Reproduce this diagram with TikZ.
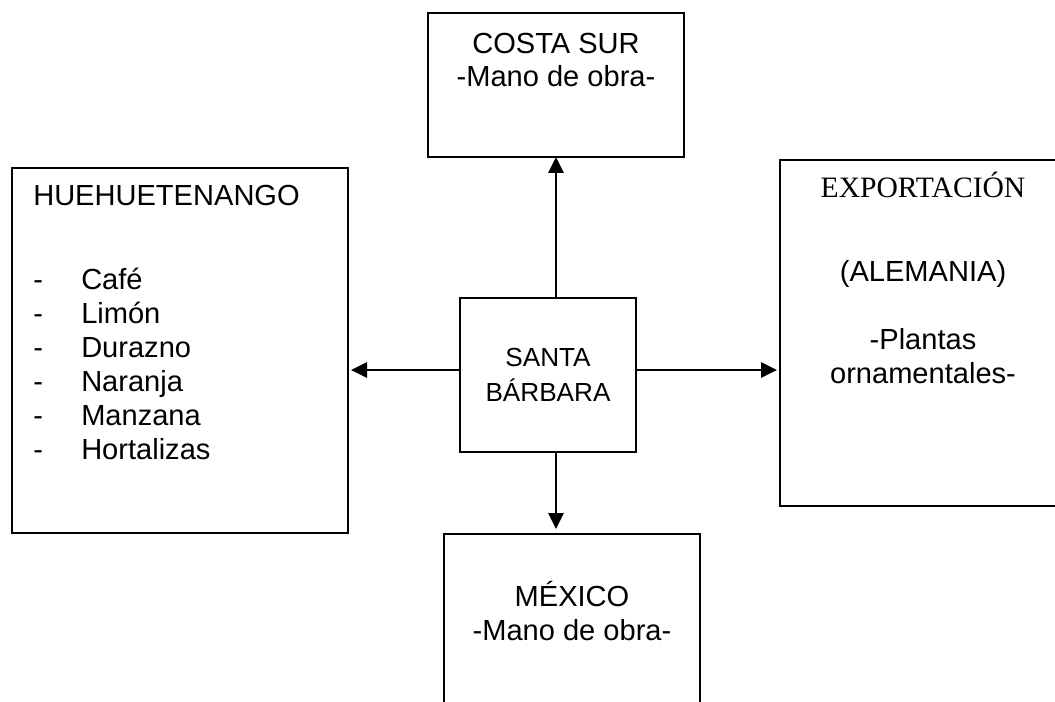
\documentclass[tikz,border=0pt]{standalone}
\usepackage{fontspec}
\setmainfont{Liberation Sans}
\newfontfamily\timesfont{Liberation Serif}
\usetikzlibrary{arrows.meta}
\newlength{\px}
\setlength{\px}{0.75pt}
\tikzset{
  box/.style={draw=black,line width=1.5pt,inner sep=0pt,outer sep=0pt,fill=white},
  big/.style={font=\fontsize{21.8pt}{25.4pt}\selectfont,inner sep=0pt,text=black},
  mid/.style={font=\fontsize{19.6pt}{25.8pt}\selectfont,inner sep=0pt,text=black},
  link/.style={line width=1.5pt,draw=black,-{Triangle[length=12pt,width=11.5pt]}},
}
\begin{document}
\begin{tikzpicture}[x=0.75pt,y=-0.75pt]
\clip (0,0) rectangle (1055,702);
\node[box,minimum width=336\px,minimum height=365\px] (hue) at (180,350.5) {};
\node[box,minimum width=176\px,minimum height=154\px] (santa) at (548,375) {};
\node[box,minimum width=256\px,minimum height=144\px] (costa) at (556,85) {};
\node[box,minimum width=340\px,minimum height=346\px] (exp) at (950,333) {};
\node[box,minimum width=256\px,minimum height=220\px] (mex) at (572,644) {};
\node[big,anchor=base west] (huet) at (33,206) {HUEHUETENANGO};
\node[big,anchor=north west,align=left] (huel) at (33,268) {\makebox[48\px][l]{-}Café\\\makebox[48\px][l]{-}Limón\\\makebox[48\px][l]{-}Durazno\\\makebox[48\px][l]{-}Naranja\\\makebox[48\px][l]{-}Manzana\\\makebox[48\px][l]{-}Hortalizas};
\node[mid,align=center] (santat) at (548,375) {SANTA\\BÁRBARA};
\node[big,align=center] (costat) at (556,60) {COSTA SUR\\-Mano de obra-};
\node[big,align=center] (mext) at (572,611) {MÉXICO\\-Mano de obra-};
\node[big,anchor=base,font=\fontsize{22.2pt}{25.4pt}\timesfont] (expa) at (923,198) {EXPORTACIÓN};
\node[big,anchor=base] (expb) at (923,281) {(ALEMANIA)};
\node[big,align=center] (expc) at (923,356) {-Plantas\\ornamentales-};
\draw[link] (santa.north -| costa.south) -- (costa.south);
\draw[link,shorten >=3\px] (santa.west |- 0,370) -- (hue.east |- 0,370);
\draw[link,shorten >=3\px] (santa.east |- 0,370) -- (exp.west |- 0,370);
\draw[link,shorten >=5\px] (santa.south -| costa.south) -- (mex.north -| costa.south);
\end{tikzpicture}
\end{document}
